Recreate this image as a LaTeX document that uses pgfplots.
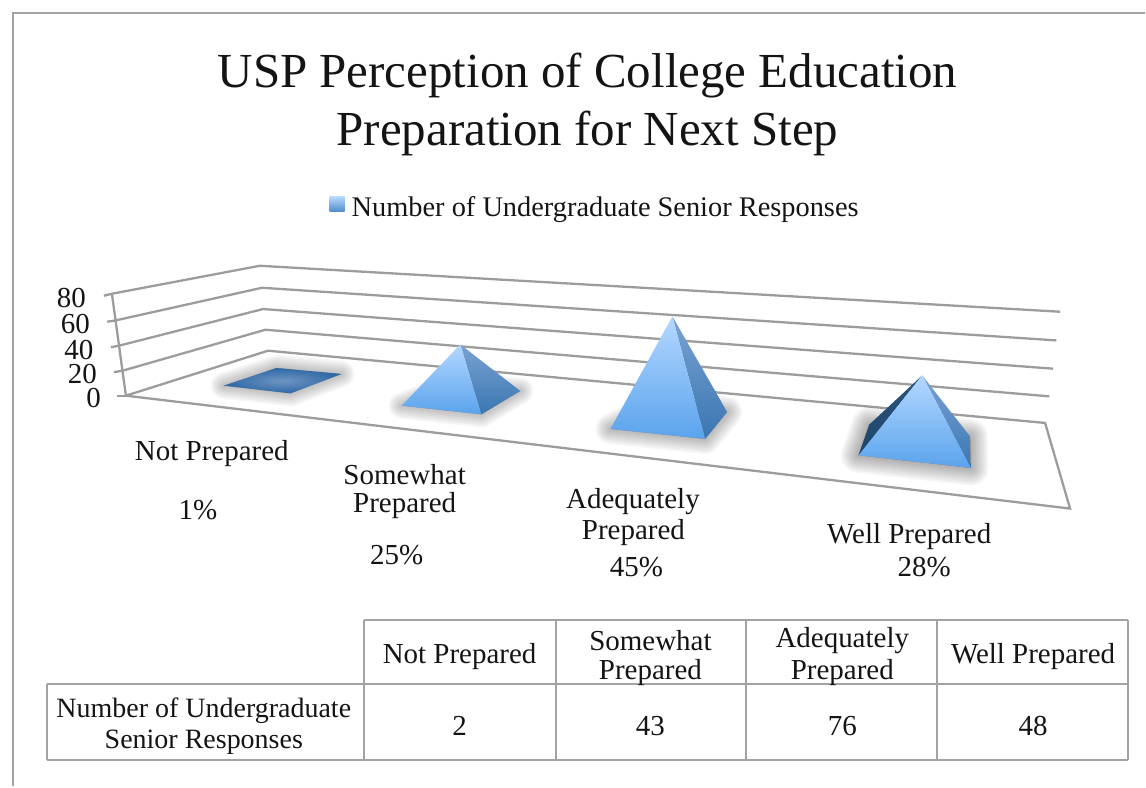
\documentclass[border=0pt]{standalone}
\usepackage{fontspec}
\setmainfont{Liberation Serif}
\usepackage{pgfplots}
\pgfplotsset{compat=1.18}

\definecolor{gridc}{HTML}{9C9C9C}
\definecolor{framec}{HTML}{A3A3A3}
\definecolor{facetop}{HTML}{B4D8FF}
\definecolor{facebot}{HTML}{5AA3EC}
\definecolor{sidetop}{HTML}{7AA2D2}
\definecolor{sidebot}{HTML}{3A76B2}
\definecolor{darktop}{HTML}{2C5580}
\definecolor{darkbot}{HTML}{1E4468}
\definecolor{flatin}{HTML}{6D95C2}
\definecolor{flatout}{HTML}{2F68A5}

% blurred floor shadow: stacked wide translucent outlines
\newcommand\softshadow[2]{%
  \pgfplotsinvokeforeach{#1}{%
    \addplot[draw=black,fill=black,line join=round,opacity=0.04,line width=##1pt] coordinates {#2} --cycle;
  }%
}
\newcommand\gridl[1]{\addplot[gridc,line width=2.3pt] coordinates {#1};}
\newcommand\tabl[1]{\addplot[framec,line width=2pt] coordinates {#1};}
\newcommand\bodyf{\fontsize{29}{29}\selectfont}

\begin{document}
\begin{tikzpicture}
\begin{axis}[
  scale only axis,width=1146pt,height=787pt,
  xmin=0,xmax=1146,ymin=0,ymax=787,y dir=reverse,
  hide axis,clip=false,
  nodes={inner sep=0pt,outer sep=0pt,align=center,yshift=-3pt,text=black!92},
]
\addplot[draw=none] coordinates {(0,0) (1146,787)};

% outer frame
\addplot[framec,line width=2pt] coordinates {(13,787) (13,13) (1146,13)};

% walls and floor
\gridl{(112,294) (260,266) (1061,312)}
\gridl{(115.7,320.7) (262.3,288) (1057.3,340.7)}
\gridl{(119,346) (263.3,309.3) (1054,369)}
\gridl{(122.7,371) (265.7,330) (1050.3,396.7)}
\gridl{(126,396) (268.3,351) (1046,423.3) (1071,509) (126,396)}
\gridl{(112,294) (126,396)}
\gridl{(104,296) (112,294)}
\gridl{(107.3,322) (115.7,320.7)}
\gridl{(111,347.5) (119,346)}
\gridl{(114,372.5) (122.7,371)}
\gridl{(117,396) (126,396)}

% Not Prepared: 2
\softshadow{2,6,10,14,18,22,26}{(224,386) (276.7,368.3) (341.7,374.3) (290.7,393.7)}
\addplot[draw=none,inner color=flatin,outer color=flatout] coordinates {(224,386) (276.7,368.3) (341.7,374.3) (290.7,393.7)} --cycle;

% Somewhat Prepared: 43
\softshadow{2,6,10,14,18,22,26}{(402,406) (455,385) (520.7,391.3) (481.7,414.7)}
\addplot[draw=none,top color=sidetop,bottom color=sidebot] coordinates {(460.7,344.7) (481.7,414.7) (520.7,391.3)} --cycle;
\addplot[draw=none,top color=facetop,bottom color=facebot] coordinates {(460.7,344.7) (402,406) (481.7,414.7)} --cycle;

% Adequately Prepared: 76
\softshadow{2,6,10,14,18,22,26,30}{(611,429.3) (660,405) (727.7,412.3) (705.7,439.3)}
\addplot[draw=none,top color=sidetop,bottom color=sidebot] coordinates {(673,316.7) (705.7,439.3) (727.7,412.3)} --cycle;
\addplot[draw=none,top color=facetop,bottom color=facebot] coordinates {(673,316.7) (611,429.3) (705.7,439.3)} --cycle;

% Well Prepared: 48
\softshadow{3,7,11,15,19,23,27,31,35}{(859.3,455.7) (870,425) (971,437) (971.7,468.3)}
\addplot[draw=none,top color=darktop,bottom color=darkbot] coordinates {(923,375.7) (859.3,455.7) (870,425)} --cycle;
\addplot[draw=none,top color=sidetop,bottom color=sidebot] coordinates {(923,375.7) (971.7,468.3) (971,437)} --cycle;
\addplot[draw=none,top color=facetop,bottom color=facebot] coordinates {(923,375.7) (859.3,455.7) (971.7,468.3)} --cycle;

% legend swatch
\addplot[draw=none,top color=facetop,bottom color=facebot!85!black] coordinates {(330,197) (345,197) (345,212) (330,212)} --cycle;

% data table
\tabl{(364,620.7) (1129,620.7)}
\tabl{(47,684.7) (1129,684.7)}
\tabl{(47,760.5) (1129,760.5)}
\tabl{(47,684.7) (47,760.5)}
\tabl{(364,620.7) (364,760.5)}
\tabl{(556,620.7) (556,760.5)}
\tabl{(747,620.7) (747,760.5)}
\tabl{(938,620.7) (938,760.5)}
\tabl{(1129,620.7) (1129,760.5)}

% title and legend text
\node[font=\fontsize{49}{49}\selectfont] at (588,73) {USP Perception of College Education};
\node[font=\fontsize{49}{49}\selectfont] at (588,131) {Preparation for Next Step};
\node[font=\fontsize{28.4}{29}\selectfont,anchor=west] at (352,207) {Number of Undergraduate Senior Responses};

% value axis, labels step right with the slanted wall
\node[font=\bodyf,anchor=east] at (86,295.5) {80};
\node[font=\bodyf,anchor=east] at (90,321.5) {60};
\node[font=\bodyf,anchor=east] at (93.5,347.5) {40};
\node[font=\bodyf,anchor=east] at (97,371.5) {20};
\node[font=\bodyf,anchor=east] at (101,395.5) {0};

% category labels
\node[font=\bodyf] at (212,451) {Not Prepared};
\node[font=\bodyf] at (198,507) {1\%};
\node[font=\bodyf] at (405,472) {Somewhat};
\node[font=\bodyf] at (405,503) {Prepared};
\node[font=\bodyf] at (397,553) {25\%};
\node[font=\bodyf] at (633.5,499) {Adequately};
\node[font=\bodyf] at (634,530) {Prepared};
\node[font=\bodyf] at (637,565) {45\%};
\node[font=\bodyf] at (910,534) {Well Prepared};
\node[font=\bodyf] at (925,565) {28\%};

% table text
\node[font=\bodyf] at (460,654) {Not Prepared};
\node[font=\bodyf] at (651,638) {Somewhat};
\node[font=\bodyf] at (651,670) {Prepared};
\node[font=\bodyf] at (843,638) {Adequately};
\node[font=\bodyf] at (843,670) {Prepared};
\node[font=\bodyf] at (1034,654) {Well Prepared};
\node[font=\fontsize{28}{28}\selectfont] at (204,708) {Number of Undergraduate};
\node[font=\fontsize{28}{28}\selectfont] at (204,740) {Senior Responses};
\node[font=\bodyf] at (460,724) {2};
\node[font=\bodyf] at (651,724) {43};
\node[font=\bodyf] at (843,724) {76};
\node[font=\bodyf] at (1034,724) {48};
\end{axis}
\end{tikzpicture}
\end{document}
